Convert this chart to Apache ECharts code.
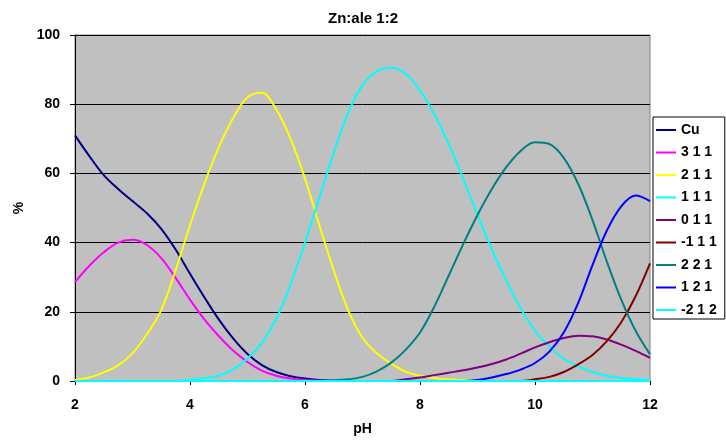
<!DOCTYPE html>
<html>
<head>
<meta charset="utf-8">
<script src="https://cdn.jsdelivr.net/npm/echarts@6/dist/echarts.min.js"></script>
<style>
  html, body { margin: 0; padding: 0; background: #ffffff; }
  #chart { width: 726px; height: 441px; }
</style>
</head>
<body>
<div id="chart"></div>
<script>
// pH grid shared by every species curve
const pH = [2, 2.25, 2.5, 2.75, 3, 3.25, 3.5, 3.75, 4, 4.25, 4.5, 4.75, 5, 5.25, 5.5, 5.75,
            6, 6.25, 6.5, 6.75, 7, 7.25, 7.5, 7.75, 8, 8.25, 8.5, 8.75, 9, 9.25, 9.5, 9.75,
            10, 10.25, 10.5, 10.75, 11, 11.25, 11.5, 11.75, 12];

// species distribution, % of total
const cu     = [71, 65, 59.5, 55.5, 52, 48.5, 44, 38, 31, 24.2, 17.8, 12.3, 7.8, 4.6, 2.6, 1.4, 0.7, 0.3, 0.1,
                0, 0, 0, 0, 0, 0, 0, 0, 0, 0, 0, 0, 0, 0, 0, 0, 0, 0, 0, 0, 0, 0];
const s311   = [28.6, 33.3, 37.2, 40, 40.8, 39.3, 35.5, 29.8, 23.5, 17.8, 13, 8.8, 5.5, 3, 1.5, 0.7, 0.3, 0.1,
                0, 0, 0, 0, 0, 0, 0, 0, 0, 0, 0, 0, 0, 0, 0, 0, 0, 0, 0, 0, 0, 0, 0];
const s211   = [0.3, 1, 2.5, 4.5, 8, 13.5, 20.5, 32, 45, 57, 67.5, 76, 82, 83.3, 78.5, 70, 58.5, 45, 32, 20.5,
                12.5, 8, 5, 2.7, 1.5, 0.8, 0.4, 0.2, 0.1, 0, 0, 0, 0, 0, 0, 0, 0, 0, 0, 0, 0];
const s111   = [0, 0, 0, 0, 0, 0, 0, 0, 0.3, 0.8, 1.6, 3.3, 6.5, 11, 18, 28, 40, 53, 66, 77.5, 85.5, 89.5,
                90.6, 88.8, 84, 77, 68.5, 58.5, 48, 38, 29, 21, 14.5, 10, 6.5, 4.2, 2.6, 1.5, 0.9, 0.5, 0.3];
const s011   = [0, 0, 0, 0, 0, 0, 0, 0, 0, 0, 0, 0, 0, 0, 0, 0, 0, 0, 0, 0, 0, 0, 0,
                0.5, 1, 1.7, 2.4, 3.1, 3.9, 4.9, 6.2, 7.9, 9.7, 11.2, 12.4, 13.1, 12.9, 12, 10.5, 8.7, 6.7];
const sm111  = [0, 0, 0, 0, 0, 0, 0, 0, 0, 0, 0, 0, 0, 0, 0, 0, 0, 0, 0, 0, 0, 0, 0, 0, 0, 0, 0, 0,
                0, 0, 0, 0, 0.5, 1.2, 2.6, 4.8, 7.5, 11.5, 17, 24.5, 34];
const s221   = [0, 0, 0, 0, 0, 0, 0, 0, 0, 0, 0, 0, 0, 0, 0, 0, 0, 0, 0.2, 0.5, 1.2, 2.8, 5.3, 9, 14,
                21.5, 30.5, 39.5, 48, 55.5, 61.8, 66.5, 69, 68.5, 64.5, 57, 46.5, 34.5, 23.5, 14.5, 7.7];
const s121   = [0, 0, 0, 0, 0, 0, 0, 0, 0, 0, 0, 0, 0, 0, 0, 0, 0, 0, 0, 0, 0, 0, 0, 0, 0, 0, 0, 0,
                0.3, 1, 2, 3.3, 5.2, 8.5, 14, 22.5, 33.5, 43.5, 50.5, 53.6, 52];
const sm212  = [0, 0, 0, 0, 0, 0, 0, 0, 0, 0, 0, 0, 0, 0, 0, 0, 0, 0, 0, 0, 0, 0, 0, 0, 0, 0, 0, 0,
                0, 0, 0, 0, 0, 0, 0, 0, 0, 0, 0, 0, 0];

const speciesNames  = ['Cu', '3 1 1', '2 1 1', '1 1 1', '0 1 1', '-1 1 1', '2 2 1', '1 2 1', '-2 1 2'];
const speciesValues = [cu, s311, s211, s111, s011, sm111, s221, s121, sm212];
const speciesColors = ['#000080', '#ff00ff', '#ffff00', '#00ffff', '#800080', '#800000', '#008080', '#0000ff', '#00ffff'];

const FONT = '"Liberation Sans", Arial, sans-serif';
const boldText = { fontFamily: FONT, fontWeight: 'bold', fontSize: 14, color: '#000' };

const chart = echarts.init(document.getElementById('chart'), null, { renderer: 'canvas' });

chart.setOption({
  animation: false,
  backgroundColor: '#ffffff',
  title: {
    text: 'Zn:ale 1:2',
    left: 'center',
    top: 6,
    textStyle: Object.assign({}, boldText, { fontSize: 15 })
  },
  grid: {
    left: 75, right: 76, top: 35, bottom: 60,
    show: true,
    backgroundColor: '#c0c0c0',
    borderColor: '#808080',
    borderWidth: 1
  },
  legend: {
    orient: 'vertical',
    left: 653,
    top: 117,
    backgroundColor: '#ffffff',
    borderColor: '#000000',
    borderWidth: 1,
    borderRadius: 0,
    padding: [6, 8, 2, 3],
    icon: 'rect',
    itemWidth: 20,
    itemHeight: 2,
    itemGap: 8.5,
    itemStyle: { borderWidth: 0 },
    textStyle: Object.assign({}, boldText),
    data: speciesNames
  },
  xAxis: {
    type: 'value',
    min: 2, max: 12, interval: 2,
    name: 'pH',
    nameLocation: 'middle',
    nameGap: 41,
    nameTextStyle: Object.assign({}, boldText),
    axisLine: { show: true, lineStyle: { color: '#000', width: 1 } },
    axisTick: { show: true, inside: false, length: 4, lineStyle: { color: '#000' } },
    axisLabel: Object.assign({ margin: 17 }, boldText),
    splitLine: { show: false }
  },
  yAxis: {
    type: 'value',
    min: 0, max: 100, interval: 20,
    name: '%',
    nameLocation: 'middle',
    nameGap: 48,
    nameRotate: 90,
    nameTextStyle: Object.assign({}, boldText),
    axisLine: { show: true, lineStyle: { color: '#000', width: 1 } },
    axisTick: { show: true, inside: false, length: 5, lineStyle: { color: '#000' } },
    axisLabel: Object.assign({ margin: 15 }, boldText),
    splitLine: { show: true, lineStyle: { color: '#000', width: 1 } }
  },
  series: speciesNames.map((name, k) => ({
    name: name,
    type: 'line',
    symbol: 'none',
    smooth: 0.35,
    color: speciesColors[k],
    lineStyle: { color: speciesColors[k], width: 2 },
    data: pH.map((x, i) => [x, speciesValues[k][i]])
  }))
});
</script>
</body>
</html>
